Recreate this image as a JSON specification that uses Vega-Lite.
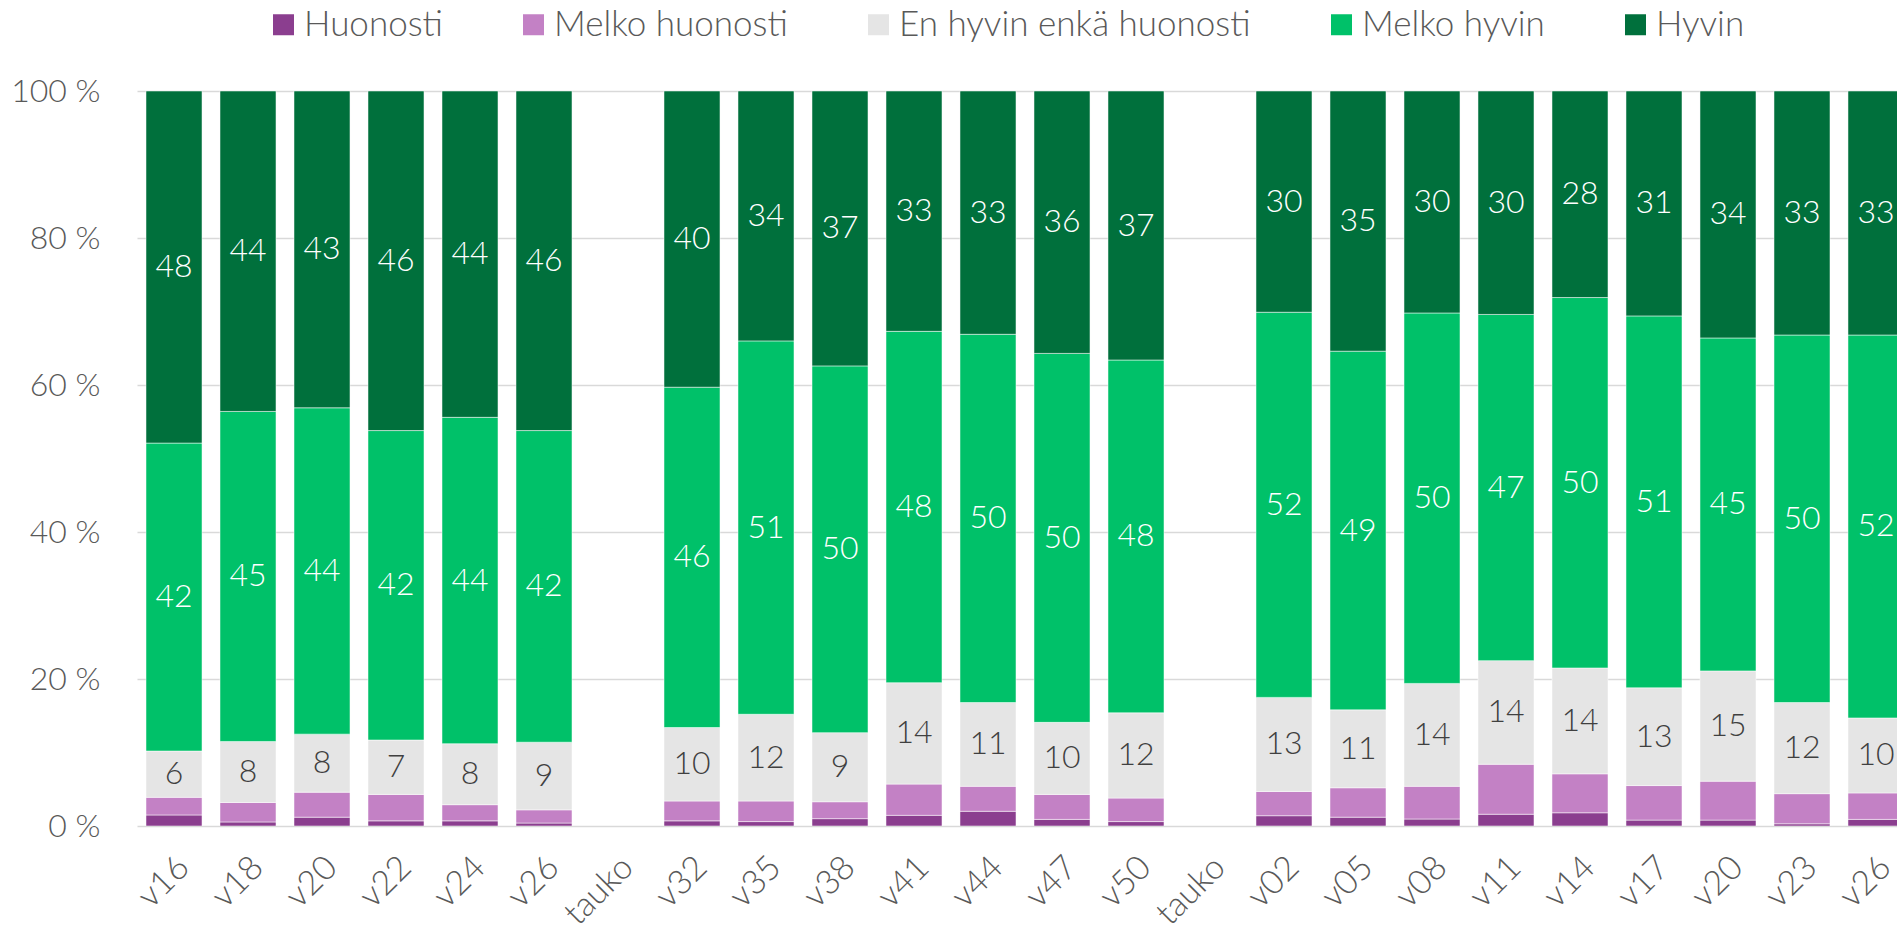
{
  "$schema": "https://vega.github.io/schema/vega-lite/v6.json",
  "autosize": "none",
  "width": 1760,
  "height": 735,
  "padding": {"left": 137, "top": 91, "right": 0, "bottom": 105},
  "background": "white",
  "config": {
    "view": {"stroke": null},
    "font": "Lato"
  },
  "data": {
    "values": [
      {"wk": "v16", "Huonosti": 1.5, "Melko huonosti": 2.4, "En hyvin enkä huonosti": 6.3, "Melko hyvin": 41.9, "Hyvin": 47.9},
      {"wk": "v18", "Huonosti": 0.55, "Melko huonosti": 2.65, "En hyvin enkä huonosti": 8.3, "Melko hyvin": 44.9, "Hyvin": 43.6},
      {"wk": "v20", "Huonosti": 1.2, "Melko huonosti": 3.4, "En hyvin enkä huonosti": 7.9, "Melko hyvin": 44.4, "Hyvin": 43.1},
      {"wk": "v22", "Huonosti": 0.7, "Melko huonosti": 3.6, "En hyvin enkä huonosti": 7.4, "Melko hyvin": 42.1, "Hyvin": 46.2},
      {"wk": "v24", "Huonosti": 0.7, "Melko huonosti": 2.2, "En hyvin enkä huonosti": 8.3, "Melko hyvin": 44.4, "Hyvin": 44.4},
      {"wk": "v26", "Huonosti": 0.4, "Melko huonosti": 1.8, "En hyvin enkä huonosti": 9.2, "Melko hyvin": 42.4, "Hyvin": 46.2},
      {"wk": "v32", "Huonosti": 0.7, "Melko huonosti": 2.7, "En hyvin enkä huonosti": 10.0, "Melko hyvin": 46.3, "Hyvin": 40.3},
      {"wk": "v35", "Huonosti": 0.6, "Melko huonosti": 2.8, "En hyvin enkä huonosti": 11.8, "Melko hyvin": 50.8, "Hyvin": 34.0},
      {"wk": "v38", "Huonosti": 1.0, "Melko huonosti": 2.3, "En hyvin enkä huonosti": 9.4, "Melko hyvin": 49.9, "Hyvin": 37.4},
      {"wk": "v41", "Huonosti": 1.45, "Melko huonosti": 4.25, "En hyvin enkä huonosti": 13.8, "Melko hyvin": 47.8, "Hyvin": 32.7},
      {"wk": "v44", "Huonosti": 2.0, "Melko huonosti": 3.4, "En hyvin enkä huonosti": 11.4, "Melko hyvin": 50.1, "Hyvin": 33.1},
      {"wk": "v47", "Huonosti": 0.9, "Melko huonosti": 3.4, "En hyvin enkä huonosti": 9.8, "Melko hyvin": 50.2, "Hyvin": 35.7},
      {"wk": "v50", "Huonosti": 0.6, "Melko huonosti": 3.2, "En hyvin enkä huonosti": 11.6, "Melko hyvin": 48.0, "Hyvin": 36.6},
      {"wk": "v02", "Huonosti": 1.4, "Melko huonosti": 3.3, "En hyvin enkä huonosti": 12.8, "Melko hyvin": 52.4, "Hyvin": 30.1},
      {"wk": "v05", "Huonosti": 1.2, "Melko huonosti": 4.0, "En hyvin enkä huonosti": 10.6, "Melko hyvin": 48.8, "Hyvin": 35.4},
      {"wk": "v08", "Huonosti": 0.95, "Melko huonosti": 4.45, "En hyvin enkä huonosti": 14.0, "Melko hyvin": 50.4, "Hyvin": 30.2},
      {"wk": "v11", "Huonosti": 1.6, "Melko huonosti": 6.8, "En hyvin enkä huonosti": 14.1, "Melko hyvin": 47.1, "Hyvin": 30.4},
      {"wk": "v14", "Huonosti": 1.8, "Melko huonosti": 5.3, "En hyvin enkä huonosti": 14.4, "Melko hyvin": 50.4, "Hyvin": 28.1},
      {"wk": "v17", "Huonosti": 0.8, "Melko huonosti": 4.7, "En hyvin enkä huonosti": 13.3, "Melko hyvin": 50.6, "Hyvin": 30.6},
      {"wk": "v20 ", "Huonosti": 0.8, "Melko huonosti": 5.3, "En hyvin enkä huonosti": 15.0, "Melko hyvin": 45.3, "Hyvin": 33.6},
      {"wk": "v23", "Huonosti": 0.3, "Melko huonosti": 4.1, "En hyvin enkä huonosti": 12.4, "Melko hyvin": 50.0, "Hyvin": 33.2},
      {"wk": "v26 ", "Huonosti": 0.9, "Melko huonosti": 3.6, "En hyvin enkä huonosti": 10.2, "Melko hyvin": 52.1, "Hyvin": 33.2}
    ]
  },
  "transform": [
    {"fold": ["Huonosti", "Melko huonosti", "En hyvin enkä huonosti", "Melko hyvin", "Hyvin"], "as": ["cat", "v"]},
    {"calculate": "indexof(['Huonosti', 'Melko huonosti', 'En hyvin enkä huonosti', 'Melko hyvin', 'Hyvin'], datum.cat)", "as": "ord"},
    {"stack": "v", "groupby": ["wk"], "sort": [{"field": "ord", "order": "ascending"}], "offset": "normalize", "as": ["y0", "y1"]},
    {"calculate": "(datum.y0 + datum.y1) / 2", "as": "ymid"}
  ],
  "encoding": {
    "x": {
      "field": "wk",
      "type": "nominal",
      "sort": null,
      "scale": {
        "domain": ["v16", "v18", "v20", "v22", "v24", "v26", "tauko", "v32", "v35", "v38", "v41", "v44", "v47", "v50", "tauko ", "v02", "v05", "v08", "v11", "v14", "v17", "v20 ", "v23", "v26 "],
        "range": [0, 1776],
        "paddingInner": 0.243,
        "paddingOuter": 0.1216
      },
      "axis": {
        "title": null,
        "labelExpr": "trim(datum.label)",
        "labelAngle": -45,
        "labelAlign": "right",
        "labelBaseline": "middle",
        "labelPadding": 36,
        "labelOffset": 10,
        "labelFontSize": 34,
        "labelFont": "Lato",
        "labelFontWeight": 300,
        "labelColor": "#595959",
        "labelOverlap": false,
        "ticks": false,
        "domain": false,
        "grid": false
      }
    }
  },
  "layer": [
    {
      "mark": {"type": "bar", "clip": true, "stroke": "#ffffff", "strokeWidth": 1, "strokeOpacity": 0.5},
      "encoding": {
        "y": {
          "field": "y0",
          "type": "quantitative",
          "scale": {"domain": [0, 1], "nice": false},
          "axis": {
            "title": null,
            "values": [0, 0.2, 0.4, 0.6, 0.8, 1],
            "labelExpr": "round(datum.value * 100) + ' %'",
            "labelFontSize": 32,
            "labelFont": "Lato",
            "labelFontWeight": 300,
            "labelColor": "#595959",
            "labelPadding": 37,
            "ticks": false,
            "domain": false,
            "grid": true,
            "gridColor": "#D9D9D9",
            "gridWidth": 1.5
          }
        },
        "y2": {"field": "y1"},
        "color": {
          "field": "cat",
          "type": "nominal",
          "scale": {
            "domain": ["Huonosti", "Melko huonosti", "En hyvin enkä huonosti", "Melko hyvin", "Hyvin"],
            "range": ["#8B3E8F", "#C381C5", "#E5E5E5", "#00C169", "#00703C"]
          },
          "legend": {
            "title": null,
            "orient": "none",
            "legendX": 129,
            "legendY": -84,
            "direction": "horizontal",
            "symbolType": "square",
            "symbolSize": 441,
            "symbolStrokeWidth": 0,
            "labelFontSize": 35,
            "labelFont": "Lato",
            "labelFontWeight": 300,
            "labelColor": "#595959",
            "labelLimit": 800,
            "labelOffset": 3,
            "columnPadding": 73
          }
        }
      }
    },
    {
      "transform": [{"filter": "datum.cat !== 'Huonosti' && datum.cat !== 'Melko huonosti'"}],
      "mark": {"type": "text", "clip": true, "fontSize": 32, "font": "Lato", "fontWeight": 300, "baseline": "middle", "align": "center"},
      "encoding": {
        "y": {"field": "ymid", "type": "quantitative"},
        "text": {"field": "v", "type": "quantitative", "format": ".0f"},
        "color": {
          "condition": {"test": "datum.cat === 'En hyvin enkä huonosti'", "value": "#404040"},
          "value": "#ffffff"
        }
      }
    }
  ]
}
